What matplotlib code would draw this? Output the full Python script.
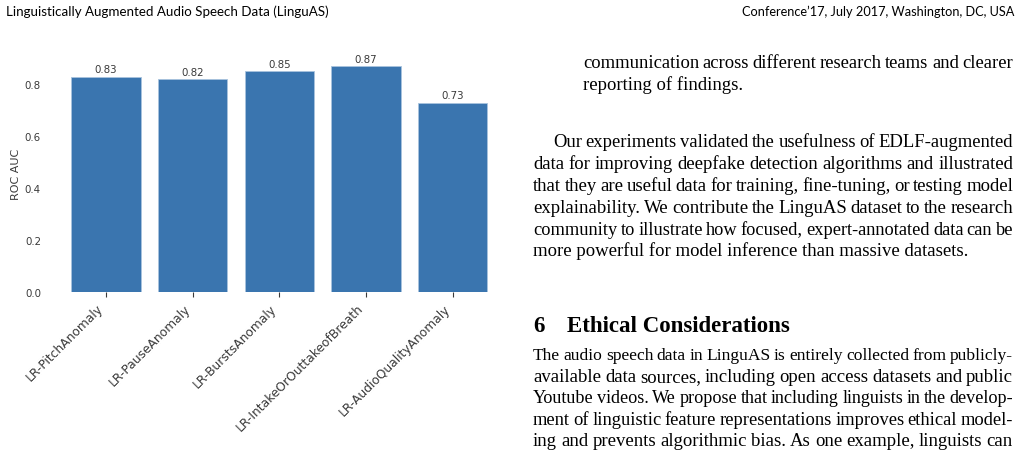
import matplotlib
matplotlib.use("Agg")
import matplotlib.pyplot as plt

# dados do gráfico
categorias = ['LR-PitchAnomaly', 'LR-PauseAnomaly', 'LR-BurstsAnomaly',
              'LR-IntakeOrOuttakeofBreath', 'LR-AudioQualityAnomaly']
roc_auc = [0.83, 0.82, 0.85, 0.87, 0.73]
yticks = [0.0, 0.2, 0.4, 0.6, 0.8]

# texto da página (coluna direita)
cabecalho_esq = 'Linguistically Augmented Audio Speech Data (LinguAS)'
cabecalho_dir = 'Conference\u201917, July 2017, Washington, DC, USA'
bloco1 = ['communication across different research teams and clearer',
          'reporting of findings.']
bloco2 = ['Our experiments validated the usefulness of EDLF-augmented',
          'data for improving deepfake detection algorithms and illustrated',
          'that they are useful data for training, fine-tuning, or testing model',
          'explainability. We contribute the LinguAS dataset to the research',
          'community to illustrate how focused, expert-annotated data can be',
          'more powerful for model inference than massive datasets.']
secao_num = '6'
secao_titulo = 'Ethical Considerations'
bloco3 = ['The audio speech data in LinguAS is entirely collected from publicly-',
          'available data sources, including open access datasets and public',
          'Youtube videos. We propose that including linguists in the develop-',
          'ment of linguistic feature representations improves ethical model-',
          'ing and prevents algorithmic bias. As one example, linguists can']

W, H = 1023, 452
fig = plt.figure(figsize=(W / 100, H / 100), dpi=100)
fig.patch.set_facecolor('white')

TXT = '#3a3a3a'
FS = 7.4
ax = fig.add_axes([50.6 / W, 1 - 293.3 / H, 457.4 / W, 237.5 / H])
xs = range(len(categorias))
barras = ax.bar(xs, roc_auc, width=0.8, color='#3a75af', edgecolor='#a9c3de', linewidth=0.6)
ax.bar_label(barras, labels=[f'{v:.2f}' for v in roc_auc], padding=1.5, fontsize=FS, color=TXT)
ax.set_xticks(list(xs))
ax.set_xticklabels(categorias, rotation=45, ha='right', fontsize=8.8, color=TXT)
ax.set_yticks(yticks)
ax.set_yticklabels([f'{t:.1f}' for t in yticks], fontsize=FS, color=TXT)
ax.set_ylabel('ROC AUC', fontsize=8, color=TXT)
ax.yaxis.set_label_coords(-0.064, 0.5)
ax.set_ylim(0, 0.9135)
ax.set_xlim(-0.64, 4.64)
ax.tick_params(axis='y', length=0, pad=7)
ax.tick_params(axis='x', length=3.5, width=0.8, color=TXT, pad=3)
for s in ax.spines.values():
    s.set_visible(False)

# texto da página
def px(x, y):
    return x / W, 1 - y / H

fig.text(*px(6, 16), cabecalho_esq, fontsize=9.6, family='Lato', color='black', va='baseline')
fig.text(*px(1014, 16), cabecalho_dir, fontsize=9.2, family='Lato', color='black', va='baseline', ha='right')

renderer = fig.canvas.get_renderer()
SERIF = dict(family='Liberation Serif', color='black', va='baseline')

def linha(texto, x0, x1, y, justificar, fs=13.5):
    # linha justificada: palavras colocadas uma a uma
    if not justificar:
        fig.text(*px(x0, y), texto, fontsize=fs, **SERIF)
        return
    palavras = texto.split(' ')
    arts = [fig.text(0, 0, p, fontsize=fs, **SERIF) for p in palavras]
    while True:
        larg = [a.get_window_extent(renderer).width for a in arts]
        gap = (x1 - x0 - sum(larg)) / (len(palavras) - 1)
        if gap >= 3.2 or fs < 11:
            break
        fs -= 0.1
        for a in arts:
            a.set_fontsize(fs)
    x = x0
    for a, w in zip(arts, larg):
        a.set_position(px(x, y))
        x += w + gap

RIGHT = 1013
y = 68
for i, t in enumerate(bloco1):
    linha(t, 583, RIGHT, y, i < len(bloco1) - 1)
    y += 21.7
y = 147
for i, t in enumerate(bloco2):
    x0 = 553 if i == 0 else 533
    linha(t, x0, RIGHT, y, i < len(bloco2) - 1)
    y += 21.9
fig.text(*px(533, 332), secao_num, fontsize=16.5, family='Liberation Serif', weight='bold', va='baseline')
fig.text(*px(567, 332), secao_titulo, fontsize=16.5, family='Liberation Serif', weight='bold', va='baseline')
y = 360
for t in bloco3:
    linha(t, 533, RIGHT, y, True)
    y += 21.6

fig.savefig('out.png', dpi=100)
